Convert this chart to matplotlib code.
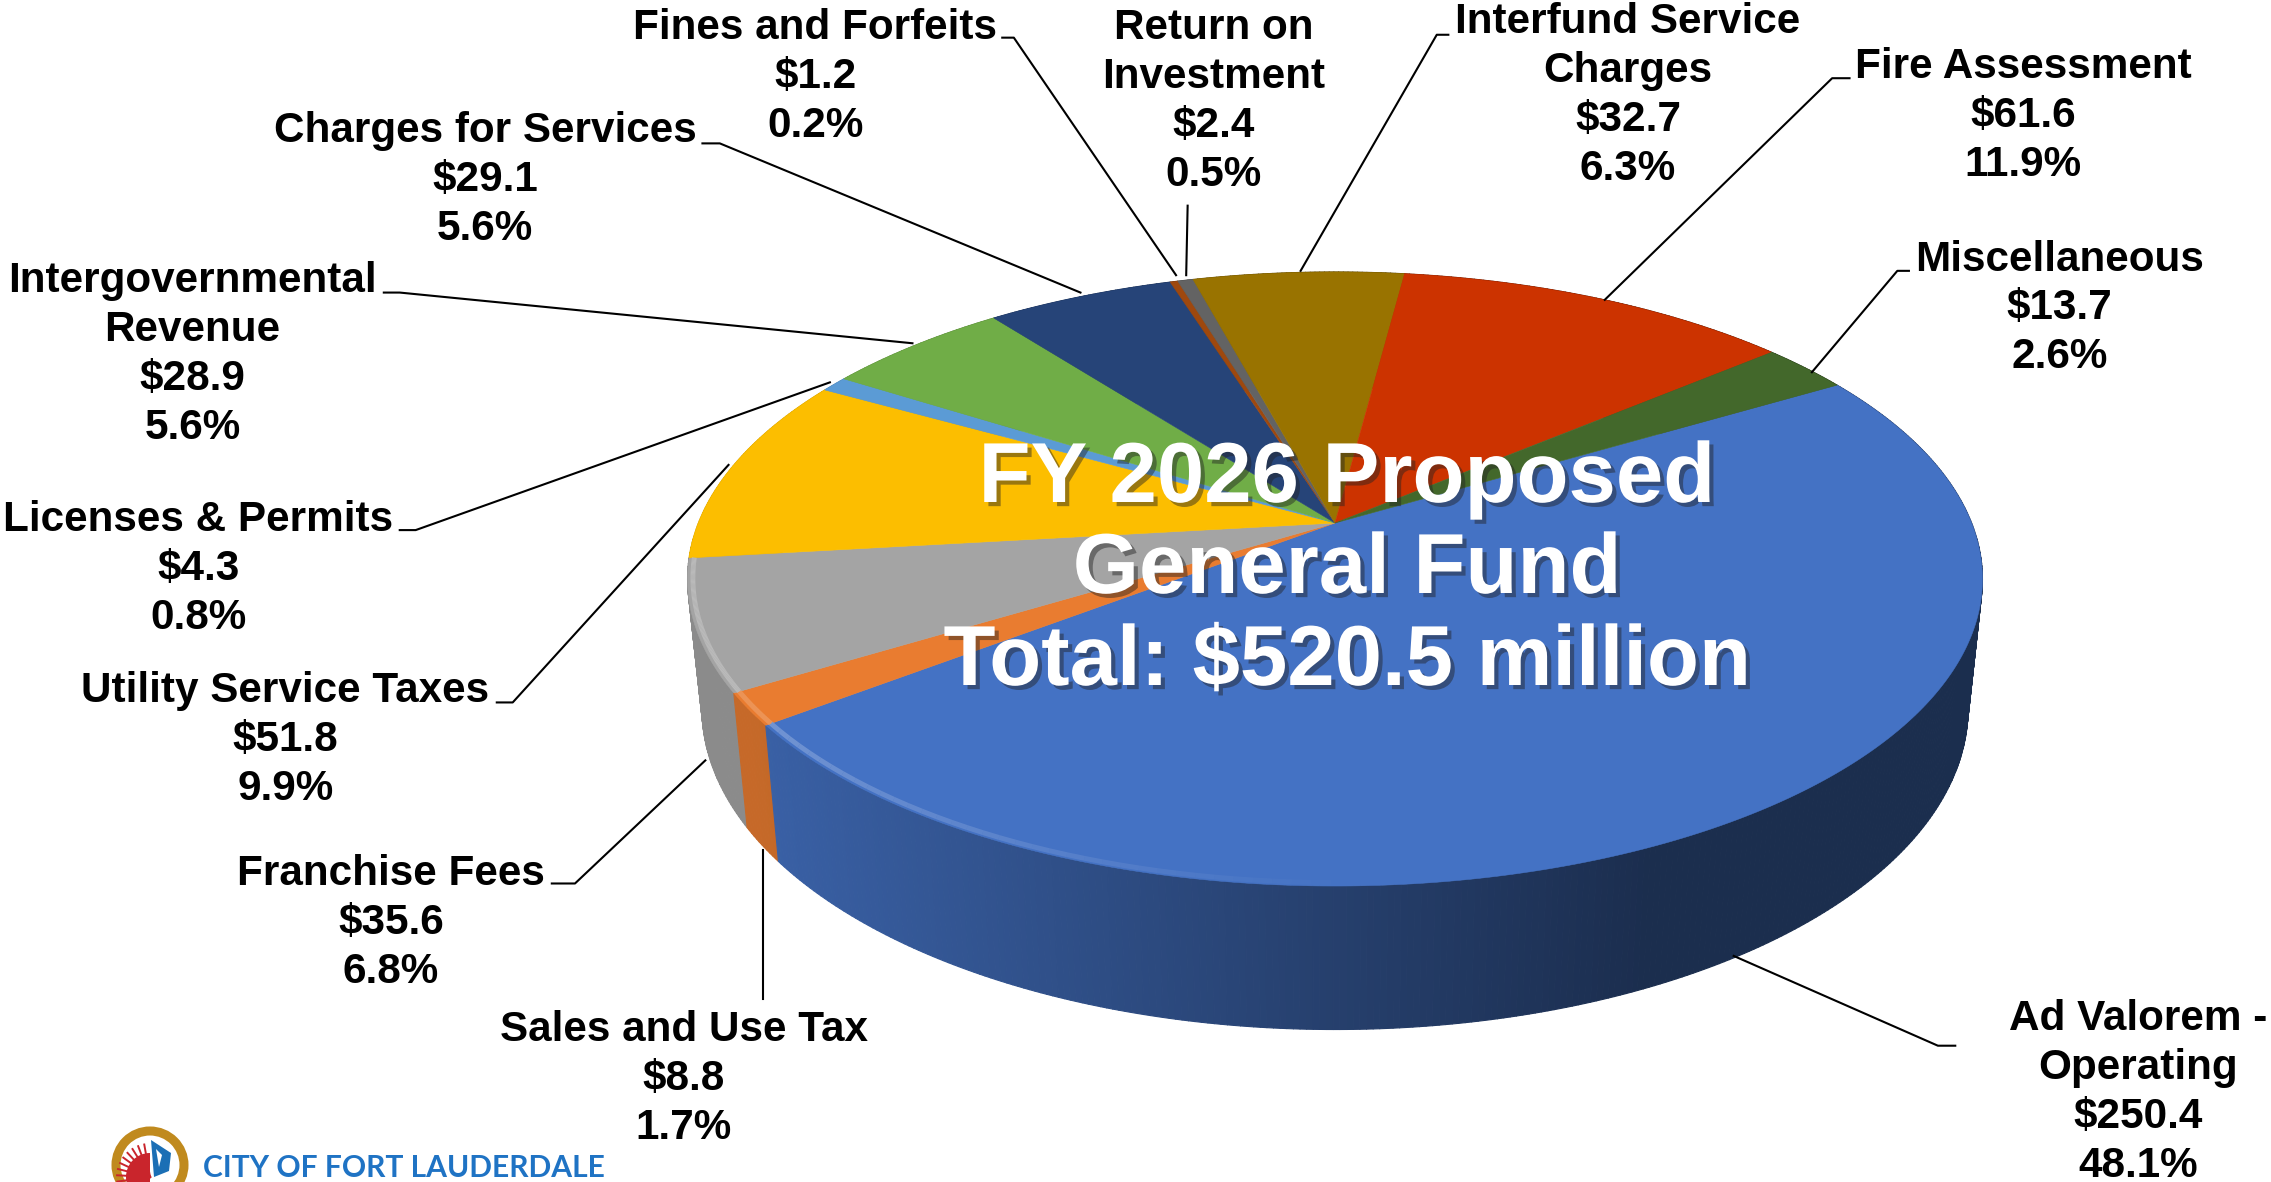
import numpy as np
import matplotlib
matplotlib.use("Agg")
import matplotlib.pyplot as plt
import matplotlib.patheffects as pe
from matplotlib.collections import PolyCollection, LineCollection
from matplotlib.colors import to_rgb
from matplotlib.patches import Circle, Wedge, Polygon

categories = ["Ad Valorem -\nOperating", "Sales and Use Tax", "Franchise Fees", "Utility Service Taxes",
              "Licenses & Permits", "Intergovernmental\nRevenue", "Charges for Services",
              "Fines and Forfeits", "Return on\nInvestment", "Interfund Service\nCharges",
              "Fire Assessment", "Miscellaneous"]
values = [250.4, 8.8, 35.6, 51.8, 4.3, 28.9, 29.1, 1.2, 2.4, 32.7, 61.6, 13.7]
percents = [48.1, 1.7, 6.8, 9.9, 0.8, 5.6, 5.6, 0.2, 0.5, 6.3, 11.9, 2.6]
colors = ["#4472C4", "#E97C30", "#A4A4A4", "#FCBE00", "#5B9BD5", "#70AD47", "#264478",
          "#9E480E", "#636363", "#997300", "#CC3300", "#43682B"]
title_lines = ["FY 2026 Proposed", "General Fund", "Total: $520.5 million"]

S = 2271 / 1568
# label centre (x, y) in reference 1568-wide view
label_pos = [(1476, 754), (472, 745), (270, 637), (197, 511), (137, 393), (133, 245), (335, 124),
             (563, 53), (838, 70), (1124, 66), (1397, 80), (1422, 213)]
leaders = [[(1197, 660), (1338, 722), (1350, 722)], [(527, 587), (527, 690)],
           [(487, 525), (397, 610), (381, 610)], [(503, 321), (354, 485), (343, 485)],
           [(573, 264), (287, 366), (276, 366)], [(630, 237), (276, 202), (265, 202)],
           [(746, 202), (497, 99), (485, 99)], [(812, 190), (700, 26), (692, 26)],
           [(819, 190), (820, 142)], [(898, 187), (992, 24), (1000, 24)],
           [(1108, 207), (1265, 54), (1277, 54)], [(1251, 257), (1310, 187), (1318, 187)]]

plt.rcParams["font.family"] = ["Liberation Sans", "DejaVu Sans"]
fig = plt.figure(figsize=(22.71, 11.82), dpi=100)
ax = fig.add_axes([0, 0, 1, 1])
ax.set_xlim(0, 2271)
ax.set_ylim(1182, 0)
ax.axis("off")

K = -0.1824
CX = 1335.0
TOP = dict(cy=523.0, a=636.6, b=296.8)
BOT = dict(cy=650.0, a=622.4, b=310.3)


def proj(theta_deg, level, r=1.0):
    t = np.radians(theta_deg)
    x, v = r * np.cos(t), r * np.sin(t)
    d = 1 + K * v
    return CX + level["a"] * x / d, level["cy"] + level["b"] * v / d


vals = np.array(values)
edges = -30.5 + np.concatenate([[0], np.cumsum(vals)]) / vals.sum() * 360.0

# side wall, shaded across the width, painted from back to front
strips = []
for i, col in enumerate(colors):
    n = max(2, int((edges[i + 1] - edges[i]) * 2))
    th = np.linspace(edges[i], edges[i + 1], n + 1)
    xt, yt = proj(th, TOP)
    xb, yb = proj(th, BOT)
    base = np.array(to_rgb(col))
    for j in range(n):
        f = 0.85 - 0.45 * np.clip((0.5 * (xb[j] + xb[j + 1]) - 760) / 880, 0, 1)
        depth = np.sin(np.radians(0.5 * (th[j] + th[j + 1])))
        strips.append((depth, [(xt[j], yt[j]), (xt[j + 1], yt[j + 1]), (xb[j + 1], yb[j + 1]), (xb[j], yb[j])], base * f))
strips.sort(key=lambda s: s[0])
polys = [s[1] for s in strips]
fcs = [s[2] for s in strips]
ax.add_collection(PolyCollection(polys, facecolors=fcs, edgecolors=fcs, linewidths=0.8, zorder=2))

# top surface
for i, col in enumerate(colors):
    th = np.linspace(edges[i], edges[i + 1], max(3, int((edges[i + 1] - edges[i]) * 3)))
    x, y = proj(th, TOP)
    ax.fill(np.r_[CX, x], np.r_[TOP["cy"], y], color=col, lw=0.4, zorder=3)

# bevel highlight on the near-left rim
segs, cols = [], []
for i in [0, 1, 2]:
    th = np.linspace(edges[i], edges[i + 1], 120)
    x, y = proj(th, TOP, 0.992)
    base = np.array(to_rgb(colors[i]))
    for j in range(len(th) - 1):
        a = np.clip((th[j] - 88) / 55, 0, 1) if i == 0 else (1.0 if i == 1 else np.clip((200 - th[j]) / 25, 0.15, 1))
        lite = base + (1 - base) * 0.28
        segs.append([(x[j], y[j]), (x[j + 1], y[j + 1])])
        cols.append((*lite, a * 0.9))
ax.add_collection(LineCollection(segs, colors=cols, linewidths=3.5, zorder=4))

# leader lines
for pts in leaders:
    p = np.array(pts, float) * S
    ax.plot(p[:, 0], p[:, 1], color="black", lw=1.5, zorder=5, solid_joinstyle="round")

# labels
for name, val, pct, (lx, ly) in zip(categories, values, percents, label_pos):
    ax.text(lx * S, ly * S, f"{name}\n${val:.1f}\n{pct:.1f}%", ha="center", va="center",
            ma="center", fontsize=30.4, fontweight="bold", color="black", linespacing=1.29, zorder=6)

# title
for line, yc in zip(title_lines, [480, 571, 663]):
    ax.text(1347, yc, line, ha="center", va="center", fontsize=61.3, fontweight="bold", color="white", zorder=7,
            path_effects=[pe.SimplePatchShadow(offset=(3, -3), shadow_rgbFace="#222222", alpha=0.45), pe.Normal()])

# city logo
lx, ly = 150, 1165
ax.add_patch(Circle((lx, ly), 34, fc="white", ec="#C08A1E", lw=6.5, zorder=5, clip_on=True))
ax.add_patch(Wedge((lx, ly + 12), 24, 90, 270, fc="#C9252C", lw=0, zorder=6))
for ang in np.arange(100, 200, 11):
    t = np.radians(ang)
    ax.plot([lx, lx + 33 * np.cos(t)], [ly + 12, ly + 12 - 33 * np.sin(t)], color="#C9252C", lw=1.4, zorder=6)
ax.add_patch(Polygon([(lx + 1, ly - 25), (lx + 21, ly - 12), (lx + 19, ly + 6), (lx + 4, ly + 12)], fc="#1B6FB5", lw=0, zorder=6))
ax.add_patch(Polygon([(lx + 6, ly - 16), (lx + 12, ly - 10), (lx + 9, ly + 2)], fc="white", lw=0, zorder=7))
ax.text(203, 1168, "CITY OF FORT LAUDERDALE", ha="left", va="center", fontsize=21.6,
        family="Lato", fontweight="bold", color="#1F73C4", zorder=6)

fig.savefig("out.png", dpi=100, facecolor="white")
